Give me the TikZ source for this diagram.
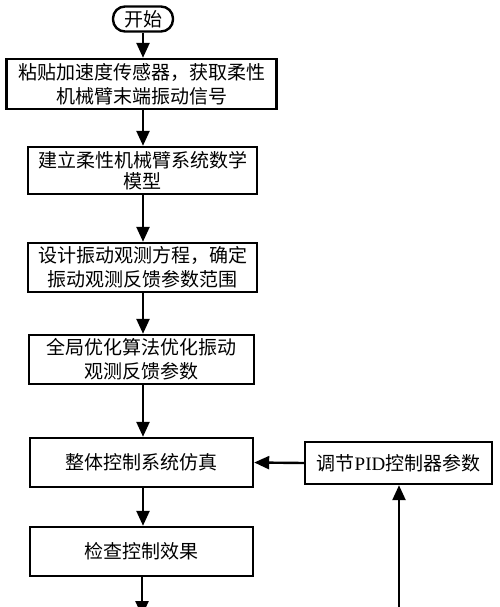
\documentclass[tikz,border=0pt]{standalone}
\usepackage{fontspec}
\newfontfamily\cjk{Noto Sans CJK SC}
\newfontfamily\latinserif{Liberation Serif}
\usetikzlibrary{arrows.meta}
\tikzset{
  box/.style={draw=black, line width=2.4pt, fill=white, align=center, inner sep=0pt,
    font=\cjk\fontsize{19}{24}\selectfont},
  startbox/.style={box, rounded corners=12pt, minimum width=60pt, minimum height=25pt},
  arr/.style={line width=2.4pt, -{Triangle[length=15pt,width=13pt]}}
}
\begin{document}
\begin{tikzpicture}[x=1pt,y=-1pt]
\clip (0,0) rectangle (500,607);
\fill[white] (0,0) rectangle (500,607);
\node[startbox] (s) at (143,19) {开始};
\node[box, minimum width=270pt, minimum height=50pt] (b1) at (141.5,84) {粘贴加速度传感器，获取柔性\\机械臂末端振动信号};
\node[box, minimum width=229pt, minimum height=47pt, font=\cjk\fontsize{19}{21}\selectfont] (b2) at (142.5,170.5) {建立柔性机械臂系统数学\\模型};
\node[box, minimum width=229pt, minimum height=49pt] (b3) at (142.5,267.5) {设计振动观测方程，确定\\振动观测反馈参数范围};
\node[box, minimum width=225pt, minimum height=49pt] (b4) at (141.5,359.5) {全局优化算法优化振动\\观测反馈参数};
\node[box, minimum width=223pt, minimum height=49pt] (b5) at (141.5,462.5) {整体控制系统仿真};
\node[box, minimum width=223pt, minimum height=49pt] (b6) at (141.5,551.5) {检查控制效果};
\node[box, minimum width=187pt, minimum height=42pt] (b7) at (398.5,463) {调节{\latinserif PID}控制器参数};
\coordinate (endd) at (142,616);
\coordinate (loop) at (399,620);
\draw[arr] (s.south) -- (s.south |- b1.north);
\draw[arr] (b1.south -| s.south) -- (s.south |- b2.north);
\draw[arr] (b2.south -| s.south) -- (s.south |- b3.north);
\draw[arr] (b3.south -| s.south) -- (s.south |- b4.north);
\draw[arr] (b4.south -| s.south) -- (s.south |- b5.north);
\draw[arr] (b5.south -| s.south) -- (s.south |- b6.north);
\draw[arr] (b6.south -| endd) -- (endd);
\draw[arr] (b7.west) -- (b5.east);
\draw[arr] (loop) -- (loop |- b7.south);
\end{tikzpicture}
\end{document}
